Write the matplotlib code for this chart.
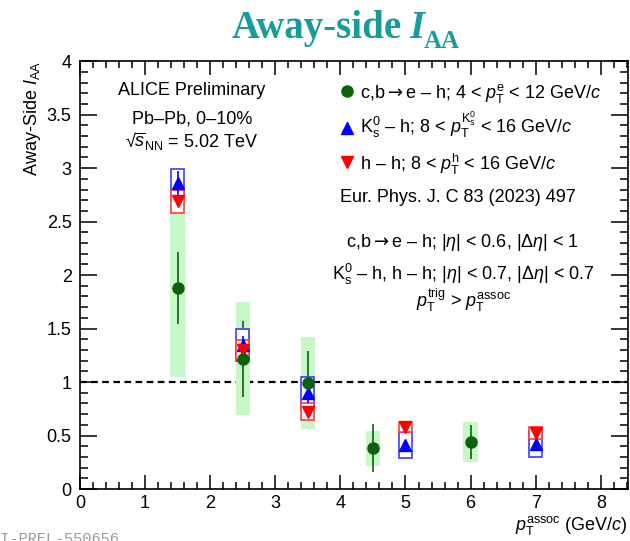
import numpy as np
import matplotlib.pyplot as plt
from matplotlib.lines import Line2D
from matplotlib.ticker import MultipleLocator

plt.rcParams['font.family'] = ['Liberation Sans', 'DejaVu Sans']
plt.rcParams['mathtext.fontset'] = 'custom'
plt.rcParams['mathtext.rm'] = 'Liberation Sans'
plt.rcParams['mathtext.it'] = 'Liberation Sans:italic'
plt.rcParams['mathtext.bf'] = 'Liberation Sans:bold'
plt.rcParams['mathtext.sf'] = 'DejaVu Sans'

# c,b -> e - h
x_e = np.array([1.5, 2.5, 3.5, 4.5, 6.0])
iaa_e = np.array([1.88, 1.22, 0.99, 0.38, 0.44])
stat_e = np.array([0.34, 0.355, 0.30, 0.225, 0.155])
sys_e = np.array([0.83, 0.53, 0.43, 0.165, 0.19])

# K0s - h
x_k = np.array([1.5, 2.5, 3.5, 5.0, 7.0])
iaa_k = np.array([2.86, 1.35, 0.90, 0.41, 0.42])
stat_k = np.array([0.11, 0.08, 0.10, 0.03, 0.03])
sys_k = np.array([0.13, 0.15, 0.145, 0.12, 0.12])

# h - h
x_h = np.array([1.5, 2.5, 3.5, 5.0, 7.0])
iaa_h = np.array([2.69, 1.30, 0.725, 0.58, 0.525])
stat_h = np.array([0.04, 0.03, 0.03, 0.02, 0.02])
sys_h = np.array([0.11, 0.09, 0.075, 0.047, 0.055])

green = '#0b620b'
green_box = '#c8f7c8'
blue = '#0000ff'
red = '#ff0000'
arrow = r'$\mathsf{\rightarrow}$'

fig = plt.figure(figsize=(6.3, 5.41), dpi=100)
ax = fig.add_axes([0.127, 0.096, 0.870, 0.791])

# systematic boxes
ax.bar(x_e, 2 * sys_e, bottom=iaa_e - sys_e, width=0.22, color=green_box,
       edgecolor='none', zorder=1)
ax.errorbar(x_e, iaa_e, yerr=stat_e, fmt='none', ecolor=green, elinewidth=1.2,
            zorder=2)
ax.bar(x_k, 2 * sys_k, bottom=iaa_k - sys_k, width=0.2, facecolor='white',
       edgecolor='#3c3cff', linewidth=1.2, zorder=3)
ax.bar(x_h, 2 * sys_h, bottom=iaa_h - sys_h, width=0.2, facecolor='white',
       edgecolor='#ff3c3c', linewidth=1.2, zorder=3.5)
ax.errorbar(x_k, iaa_k, yerr=stat_k, fmt='^', color=blue, ms=8, elinewidth=1.2,
            zorder=4)
ax.errorbar(x_h, iaa_h, yerr=stat_h, fmt='v', color=red, ms=8, elinewidth=1.2,
            zorder=4.5)
ax.plot(x_e, iaa_e, 'o', color=green, ms=8, zorder=5)

ax.axhline(1, color='k', ls=(0, (3, 2)), lw=1.6, zorder=0.5)

ax.set_xlim(0, 8.42)
ax.set_ylim(0, 4)
ax.xaxis.set_major_locator(MultipleLocator(1))
ax.xaxis.set_minor_locator(MultipleLocator(0.2))
ax.yaxis.set_major_locator(MultipleLocator(0.5))
ax.yaxis.set_minor_locator(MultipleLocator(0.1))
ax.yaxis.set_major_formatter(plt.FuncFormatter(lambda v, p: f'{v:g}'))
ax.tick_params(which='both', direction='in', top=True, right=True, width=1.1,
               labelsize=13)
ax.tick_params(axis='y', which='major', length=12, pad=6)
ax.tick_params(axis='y', which='minor', length=6)
ax.tick_params(axis='x', which='major', length=10, pad=4)
ax.tick_params(axis='x', which='minor', length=5)
for s in ax.spines.values():
    s.set_linewidth(1.2)

ax.set_ylabel(r'Away-Side $I_{\rm AA}$', fontsize=13, loc='top', labelpad=3)
ax.text(1.0, -0.096, r'$p_{\rm T}^{\rm assoc}$ (GeV/$c$)', transform=ax.transAxes,
        ha='right', va='baseline', fontsize=13)

# collaboration text
ax.text(0.204, 0.922, 'ALICE Preliminary', transform=ax.transAxes, ha='center',
        va='baseline', fontsize=13)
ax.text(0.204, 0.854, 'Pb–Pb, 0–10%', transform=ax.transAxes, ha='center',
        va='baseline', fontsize=13)
ax.text(0.204, 0.800, r'√$\overline{s}_{\rm NN}$ = 5.02 TeV',
        transform=ax.transAxes, ha='center', va='baseline', fontsize=13)

# legend
leg_rows = [
    ('o', green, 0.930, 0.914,
     'c,b' + arrow + r'e – h; 4 < $p_{\rm T}^{\rm e}$ < 12 GeV/$c$'),
    ('^', blue, 0.843, 0.831,
     r'K$^{0}_{\rm s}$ – h; 8 < $p_{\rm T}^{{\rm K}^{0}_{\rm s}}$ < 16 GeV/$c$'),
    ('v', red, 0.765, 0.745, r'h – h; 8 < $p_{\rm T}^{\rm h}$ < 16 GeV/$c$'),
]
for m, c, ym, yt, lab in leg_rows:
    ax.add_line(Line2D([0.487], [ym], marker=m, color=c, ms=8, ls='none',
                       transform=ax.transAxes))
    ax.text(0.511, yt, lab, transform=ax.transAxes, ha='left', va='baseline',
            fontsize=13)
ax.text(0.690, 0.671, 'Eur. Phys. J. C 83 (2023) 497', transform=ax.transAxes,
        ha='center', va='baseline', fontsize=13)
ax.text(0.697, 0.566, 'c,b' + arrow + r'e – h; |$\eta$| < 0.6, |$\Delta\eta$| < 1',
        transform=ax.transAxes, ha='center', va='baseline', fontsize=13)
ax.text(0.699, 0.488,
        r'K$^{0}_{\rm s}$ – h, h – h; |$\eta$| < 0.7, |$\Delta\eta$| < 0.7',
        transform=ax.transAxes, ha='center', va='baseline', fontsize=13)
ax.text(0.700, 0.425, r'$p_{\rm T}^{\rm trig}$ > $p_{\rm T}^{\rm assoc}$',
        transform=ax.transAxes, ha='center', va='baseline', fontsize=13)

# title, pieces placed one after another
teal = '#1a9b9b'
r = fig.canvas.get_renderer()
t1 = fig.text(0.368, 0.930, 'Away-side', fontfamily='Liberation Serif',
              fontweight='bold', fontsize=28, color=teal, va='baseline')
x1 = t1.get_window_extent(r).x1 / fig.bbox.width
t2 = fig.text(x1 + 0.012, 0.930, 'I', fontfamily='Liberation Serif',
              fontweight='bold', fontstyle='italic', fontsize=28, color=teal,
              va='baseline')
x2 = t2.get_window_extent(r).x1 / fig.bbox.width
fig.text(x2 - 0.002, 0.912, 'AA', fontfamily='Liberation Serif',
         fontweight='bold', fontsize=18, color=teal, va='baseline')

# watermark
fig.text(-0.029, 0.016, 'ALI-PREL-550656', fontfamily='Liberation Mono',
         fontsize=11, color='#999999', va='top')

fig.savefig('out.png', dpi=100)
